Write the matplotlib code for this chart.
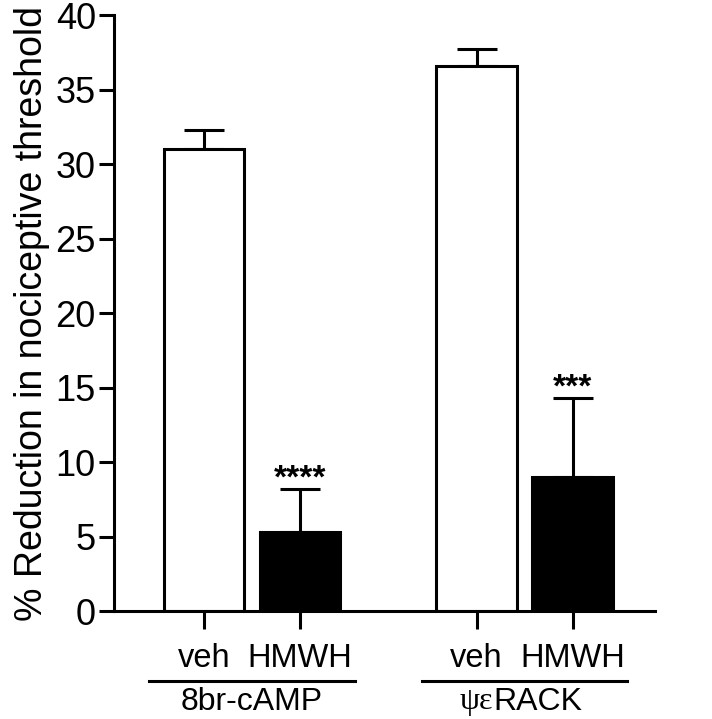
import matplotlib.pyplot as plt
import matplotlib.transforms as mtransforms
import numpy as np

plt.rcParams["font.family"] = ["Liberation Sans", "DejaVu Sans"]

conditions = ["veh", "HMWH", "veh", "HMWH"]
groups = ["8br-cAMP", "RACK"]
means = [31.0, 5.3, 36.6, 9.0]
sems = [1.3, 2.9, 1.1, 5.3]
stars = ["", "****", "", "***"]
fills = ["white", "black", "white", "black"]

xpos = np.array([0, 1, 2.84, 3.84])
width = 0.84
lw = 2.2

fig = plt.figure(figsize=(7.12, 7.19), dpi=100)
ax = fig.add_axes([0.160, 0.150, 0.760, 0.829])

ax.bar(xpos, means, width=width, color=fills, edgecolor="black", linewidth=lw, zorder=2)
ax.errorbar(xpos, means, yerr=[np.zeros(4), sems], fmt="none", ecolor="black",
            elinewidth=lw, capsize=14.5, capthick=lw, zorder=1)

for x, m, s, st in zip(xpos, means, sems, stars):
    if st:
        ax.text(x, m + s + 0.1, st, ha="center", va="baseline", fontsize=24,
                fontweight="bold")

ax.set_xlim(-0.94, 4.70)
ax.set_ylim(0, 40)
ax.set_yticks(np.arange(0, 41, 5))
ax.set_xticks(xpos)
ax.set_xticklabels(conditions, fontsize=23.5)
ax.tick_params(axis="y", labelsize=26, length=11, width=lw, pad=2)
ax.tick_params(axis="x", length=13, width=lw, pad=10)
ax.set_ylabel("% Reduction in nociceptive threshold", fontsize=27, labelpad=4)

for side in ["top", "right"]:
    ax.spines[side].set_visible(False)
for side in ["left", "bottom"]:
    ax.spines[side].set_linewidth(lw)

# group underlines and labels
trans = mtransforms.blended_transform_factory(ax.transData, ax.transAxes)
for i, name in enumerate(groups):
    c = (xpos[2 * i] + xpos[2 * i + 1]) / 2
    ax.plot([c - 1.07, c + 1.07], [-0.117, -0.117], color="black", lw=lw,
            transform=trans, clip_on=False)
    if name == "RACK":
        ax.text(c - 0.33, -0.152, "ψε", ha="right", va="center", fontsize=23,
                family=["Liberation Serif", "DejaVu Serif"], transform=trans)
        ax.text(c - 0.33, -0.152, name, ha="left", va="center", fontsize=23,
                transform=trans)
    else:
        ax.text(c, -0.152, name, ha="center", va="center", fontsize=23,
                transform=trans)

fig.savefig("out.png", dpi=100)
